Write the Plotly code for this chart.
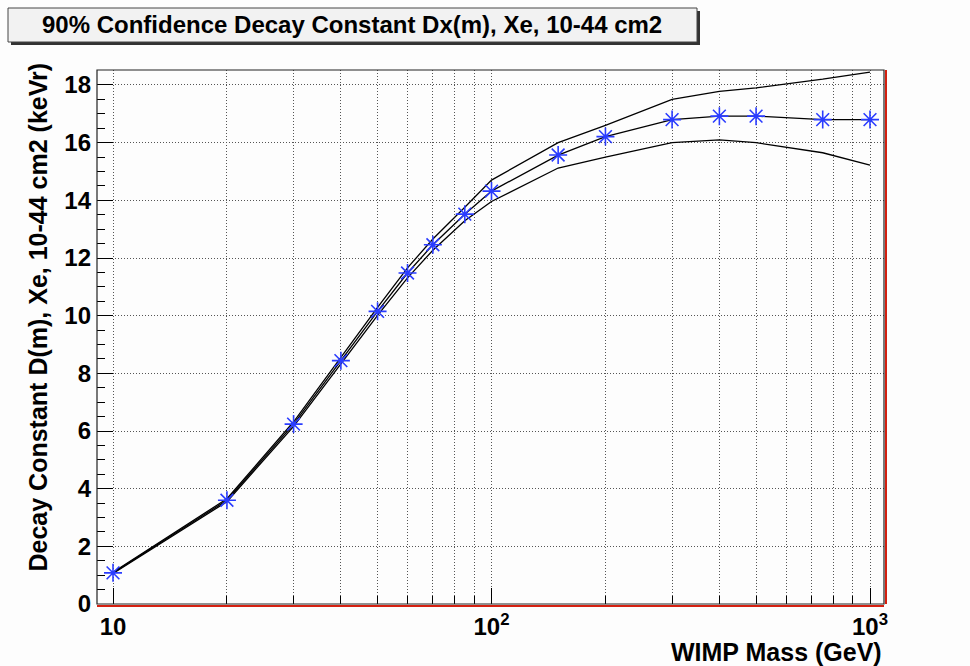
import plotly.graph_objects as go

# ---- data ----
mass = [10, 20, 30, 40, 50, 60, 70, 85, 100, 150, 200, 300, 400, 500, 750, 1000]
decay_mid = [1.08, 3.60, 6.24, 8.44, 10.15, 11.48, 12.46, 13.52, 14.32, 15.57, 16.21, 16.80, 16.92, 16.92, 16.80, 16.80]
decay_upper = [1.10, 3.65, 6.32, 8.56, 10.29, 11.66, 12.66, 13.76, 14.70, 16.00, 16.60, 17.50, 17.78, 17.90, 18.20, 18.45]
decay_lower = [1.06, 3.55, 6.16, 8.32, 10.01, 11.31, 12.27, 13.29, 13.96, 15.12, 15.50, 16.00, 16.10, 16.00, 15.65, 15.22]

x_tickvals = [10, 100, 1000]
x_ticktext = ["10", "10<sup>2</sup>", "10<sup>3</sup>"]

title_text = "90% Confidence Decay Constant Dx(m), Xe, 10-44 cm2"
x_title = "WIMP Mass (GeV)"
y_title = "Decay Constant D(m), Xe, 10-44 cm2 (keVr)"

# ---- layout geometry (pixels) ----
W, H = 970, 666
L, R, T, B = 97, 86, 70, 62
pw, ph = W - L - R, H - T - B


def px(x):
    return (x - L) / pw


def py(y):
    return (H - B - y) / ph


FONT = "Liberation Sans, Arial, Helvetica, sans-serif"

fig = go.Figure()
line_style = dict(color="black", width=1.3)
fig.add_trace(go.Scatter(x=mass, y=decay_upper, mode="lines", line=line_style, showlegend=False))
fig.add_trace(go.Scatter(x=mass, y=decay_lower, mode="lines", line=line_style, showlegend=False))
fig.add_trace(go.Scatter(
    x=mass, y=decay_mid, mode="lines+markers", line=line_style,
    marker=dict(symbol="asterisk-open", size=15, color="#2a3cff",
                line=dict(color="#2a3cff", width=1.6)),
    showlegend=False))

grid_dash = "1px,2px"
fig.update_xaxes(
    type="log", range=[0.9577, 3.037],
    tickvals=x_tickvals, ticktext=x_ticktext,
    ticks="inside", ticklen=16, tickwidth=1, tickcolor="black",
    showgrid=True, gridcolor="#555", griddash=grid_dash, gridwidth=1,
    minor=dict(dtick="D1", ticks="inside", ticklen=8, tickcolor="black",
               showgrid=True, gridcolor="#555", griddash=grid_dash, gridwidth=1),
    showline=False, zeroline=False,
    tickfont=dict(family=FONT, size=24, color="black", weight="bold"),
    ticklabelstandoff=6,
)
fig.update_yaxes(
    range=[0, 18.52], dtick=2, tick0=0,
    ticks="inside", ticklen=16, tickwidth=1, tickcolor="black",
    showgrid=True, gridcolor="#555", griddash=grid_dash, gridwidth=1,
    minor=dict(dtick=0.5, ticks="inside", ticklen=8, tickcolor="black", showgrid=False),
    showline=False, zeroline=False,
    tickfont=dict(family=FONT, size=24, color="black", weight="bold"),
    ticklabelstandoff=5,
)

shapes = [
    # frame
    dict(type="rect", xref="paper", yref="paper", x0=0, x1=1, y0=0, y1=1,
         line=dict(color="#222", width=1.2), layer="above"),
    # red bottom/right edges
    dict(type="line", xref="paper", yref="paper", x0=0, x1=1, y0=-2, y1=-2,
         ysizemode="pixel", yanchor=0, line=dict(color="#d42010", width=2), layer="above"),
    dict(type="line", xref="paper", yref="paper", x0=2, x1=2, y0=0, y1=1,
         xsizemode="pixel", xanchor=1, line=dict(color="#d42010", width=2), layer="above"),
    # title box shadow and box
    dict(type="rect", xref="paper", yref="paper", x0=px(11), x1=px(700), y0=py(45), y1=py(11),
         line=dict(width=0), fillcolor="#333"),
    dict(type="rect", xref="paper", yref="paper", x0=px(8), x1=px(697), y0=py(42), y1=py(8),
         line=dict(color="#444", width=1), fillcolor="#f2f2f2"),
]

annotations = [
    dict(text="<b>" + title_text + "</b>", xref="paper", yref="paper",
         x=px(352), y=py(25), xanchor="center", yanchor="middle", showarrow=False,
         font=dict(family=FONT, size=24, color="black")),
    dict(text="<b>" + x_title + "</b>", xref="paper", yref="paper",
         x=1, y=0, xanchor="right", yanchor="top", yshift=-32, showarrow=False,
         font=dict(family=FONT, size=25, color="black")),
    dict(text="<b>" + y_title + "</b>", xref="paper", yref="paper",
         x=0, y=1, xanchor="center", yanchor="top", xshift=-60, yshift=9,
         textangle=-90, showarrow=False,
         font=dict(family=FONT, size=25, color="black")),
]

fig.update_layout(
    width=W, height=H,
    margin=dict(l=L, r=R, t=T, b=B, pad=0),
    paper_bgcolor="#fdfdfd", plot_bgcolor="#fdfdfd",
    shapes=shapes, annotations=annotations,
    showlegend=False,
)

fig.write_html("out.html")
